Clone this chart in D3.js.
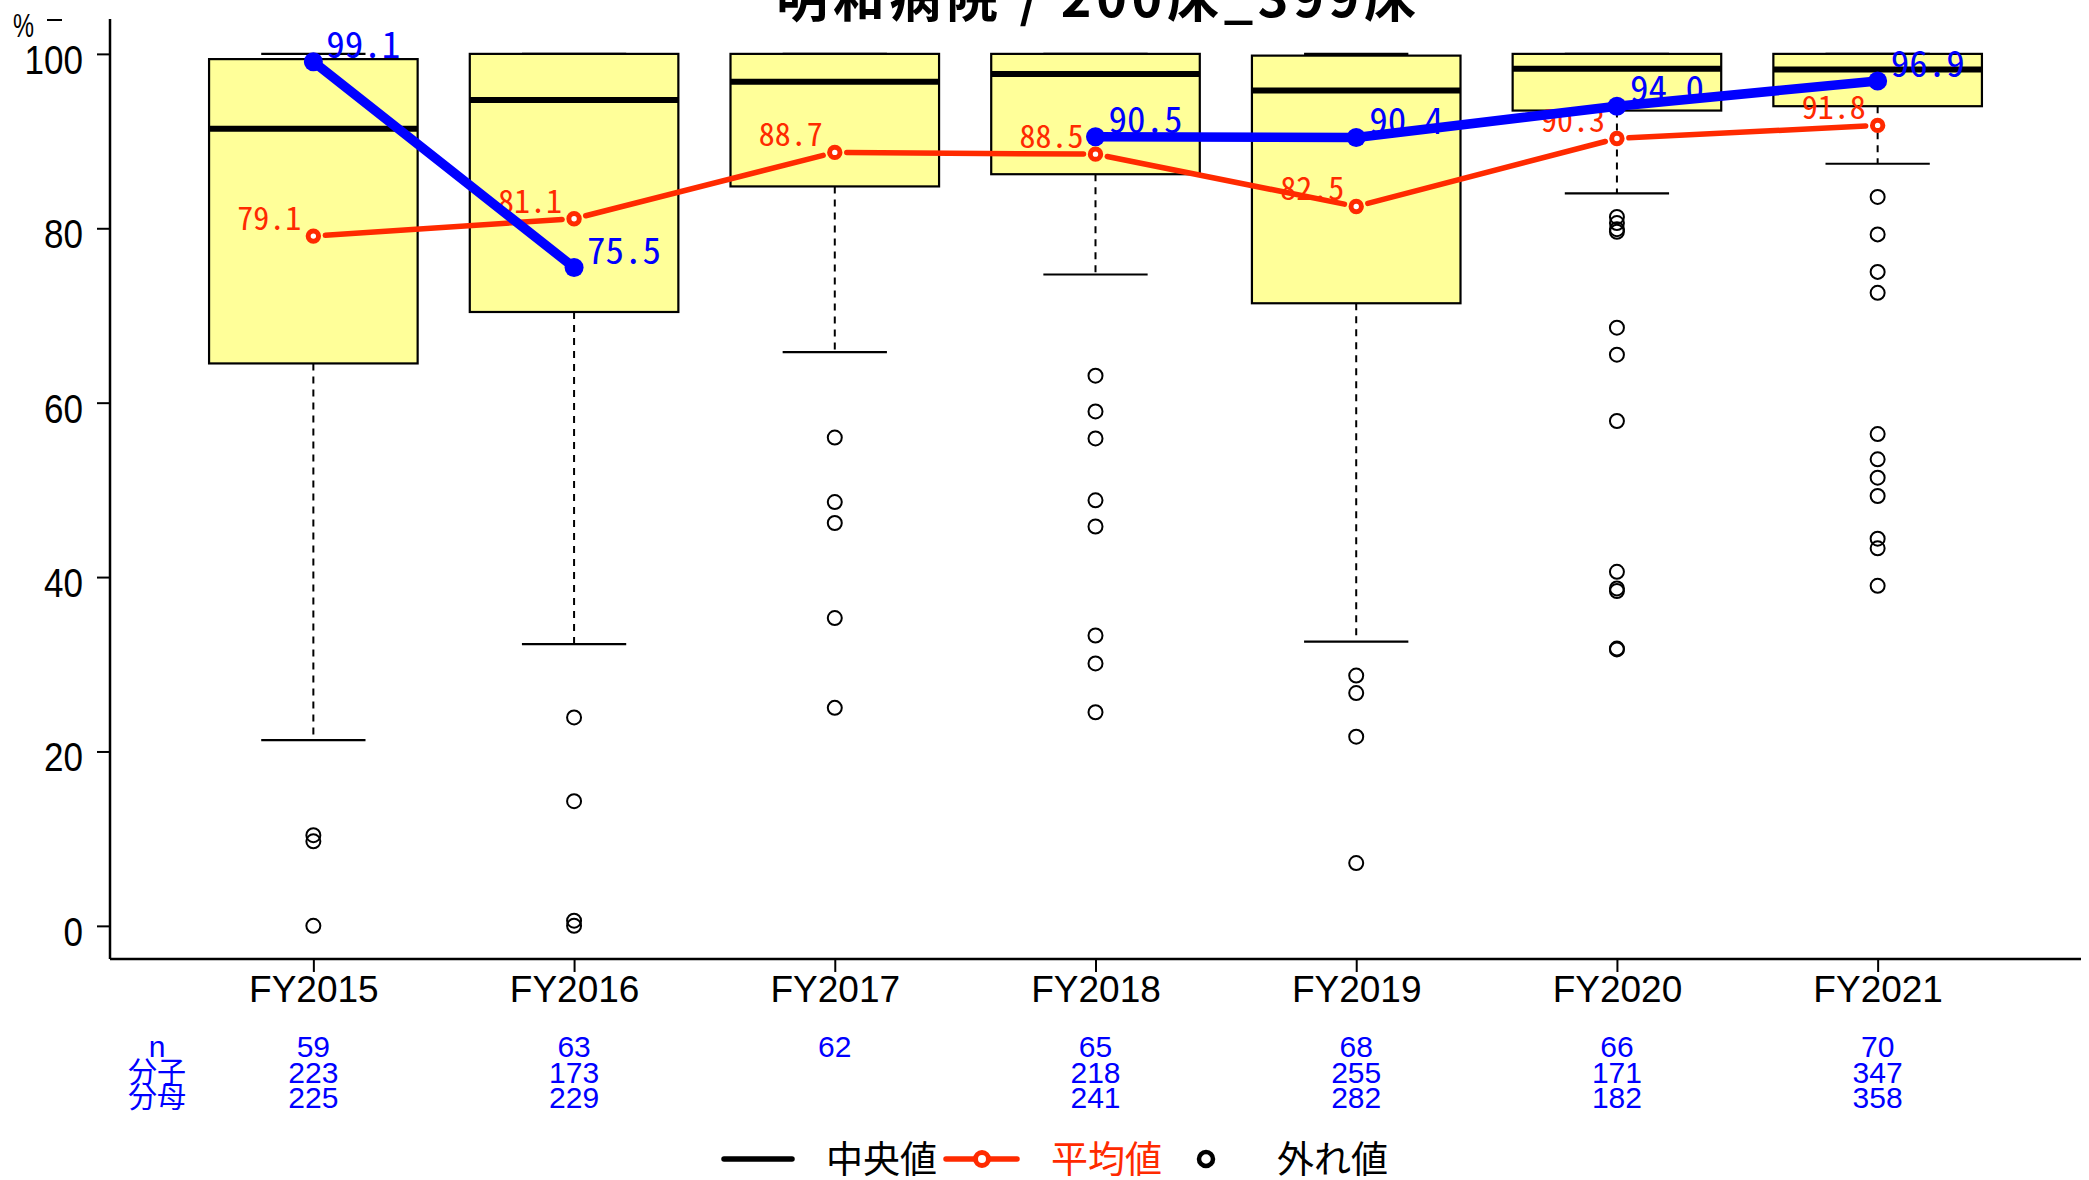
<!DOCTYPE html>
<html>
<head>
<meta charset="utf-8">
<script src="https://cdn.jsdelivr.net/npm/d3@7"></script>
<style>
  html, body { margin: 0; padding: 0; background: #fff; }
  svg { display: block; }
</style>
</head>
<body>
<svg id="chart" width="2089" height="1180"></svg>
<script>
// ---------------- DATA ----------------
const titleText = "明和病院 / 200床_399床";
const categories = ["FY2015", "FY2016", "FY2017", "FY2018", "FY2019", "FY2020", "FY2021"];
const whiskerLow = [21.3, 32.3, 65.8, 74.7, 32.6, 84.0, 87.4];
const q1 = [64.5, 70.4, 84.8, 86.2, 71.4, 93.5, 94.0];
const median = [91.4, 94.7, 96.8, 97.7, 95.8, 98.3, 98.2];
const q3 = [99.4, 100, 100, 100, 99.8, 100, 100];
const whiskerHigh = [100, 100, 100, 100, 100, 100, 100];
const outliers = [
  [10.4, 9.7, 0.0],
  [23.9, 14.3, 0.6, 0.0],
  [56.0, 48.6, 46.2, 35.3, 25.0],
  [63.1, 59.0, 55.9, 48.8, 45.8, 33.3, 30.1, 24.5],
  [28.7, 26.7, 21.7, 7.2],
  [81.3, 80.6, 79.9, 79.6, 68.6, 65.5, 57.9, 40.6, 38.7, 38.4, 31.8, 31.7],
  [83.6, 79.3, 75.0, 72.6, 56.4, 53.5, 51.4, 49.3, 44.4, 43.3, 39.0]
];
const meanValues = [79.1, 81.1, 88.7, 88.5, 82.5, 90.3, 91.8];
const hospitalValues = [99.1, 75.5, null, 90.5, 90.4, 94.0, 96.9];
const nValues = [59, 63, 62, 65, 68, 66, 70];
const numerators = [223, 173, null, 218, 255, 171, 347];
const denominators = [225, 229, null, 241, 282, 182, 358];
const tableRowLabels = ["n", "分子", "分母"];
const yTicks = [0, 20, 40, 60, 80, 100];
const legendLabels = ["中央値", "平均値", "外れ値"];

// ---------------- SETUP ----------------
const svg = d3.select("#chart");
const BLUE = "#0000ff", RED = "#ff2a00", BOXFILL = "#ffff99";
const SANS = "'Liberation Sans', Arial, Helvetica, sans-serif";
const CJK = "'Noto Sans CJK JP', 'Noto Sans CJK SC', sans-serif";
const MONO = "'Noto Sans Mono CJK JP', 'DejaVu Sans Mono', monospace";

const plotLeft = 110, plotRight = 2081, plotTop = 19, plotBottom = 959;
const x = d3.scalePoint().domain(categories).range([plotLeft, plotRight]).padding(0.78);
const y = d3.scaleLinear().domain([-3.8, 104.0]).range([plotBottom, plotTop]);
const step = x.step();
const boxHalf = step * 0.4, capHalf = step * 0.2;

// ---------------- AXES ----------------
const yAxis = d3.axisLeft(y).tickValues(yTicks).tickSize(13).tickPadding(14).tickFormat(d3.format("d"));
const gy = svg.append("g").attr("transform", `translate(${plotLeft},0)`).call(yAxis);
gy.select(".domain").attr("d", `M0,${plotTop}V${plotBottom}`).attr("stroke", "#000").attr("stroke-width", 2.5);
gy.selectAll(".tick line").attr("stroke", "#000").attr("stroke-width", 2);
gy.selectAll(".tick text").attr("font-family", SANS).attr("font-size", 40).attr("fill", "#000")
  .attr("dy", null).attr("y", 19.5).attr("dominant-baseline", "auto")
  .attr("textLength", d => String(d).length * 19.5).attr("lengthAdjust", "spacingAndGlyphs");

const xAxis = d3.axisBottom(x).tickSize(13).tickPadding(0);
const gx = svg.append("g").attr("transform", `translate(0,${plotBottom})`).call(xAxis);
gx.select(".domain").attr("d", `M${plotLeft},0H${plotRight}`).attr("stroke", "#000").attr("stroke-width", 2.5);
gx.selectAll(".tick line").attr("stroke", "#000").attr("stroke-width", 2);
gx.selectAll(".tick text").attr("font-family", SANS).attr("font-size", 37).attr("fill", "#000")
  .attr("dy", null).attr("y", 43);

// "%" unit label
svg.append("text").attr("x", 13).attr("y", 37).attr("font-family", SANS).attr("font-size", 34)
  .attr("textLength", 21).attr("lengthAdjust", "spacingAndGlyphs").text("%");
svg.append("line").attr("x1", 47).attr("x2", 62).attr("y1", 20).attr("y2", 20)
  .attr("stroke", "#000").attr("stroke-width", 2);

// Title (partly cut off at top, as in the reference)
svg.append("text").attr("x", 1096).attr("y", 17).attr("text-anchor", "middle")
  .attr("font-family", CJK).attr("font-weight", "bold").attr("font-size", 52)
  .attr("textLength", 640).attr("lengthAdjust", "spacing").text(titleText);

// ---------------- BOXES ----------------
const gBox = svg.append("g");
categories.forEach((c, i) => {
  const cx = x(c);
  gBox.append("line").attr("x1", cx).attr("x2", cx).attr("y1", y(q1[i])).attr("y2", y(whiskerLow[i]))
    .attr("stroke", "#000").attr("stroke-width", 2).attr("stroke-dasharray", "7,6");
  gBox.append("line").attr("x1", cx).attr("x2", cx).attr("y1", y(q3[i])).attr("y2", y(whiskerHigh[i]))
    .attr("stroke", "#000").attr("stroke-width", 2).attr("stroke-dasharray", "7,6");
  [whiskerLow[i], whiskerHigh[i]].forEach(v => {
    gBox.append("line").attr("x1", cx - capHalf).attr("x2", cx + capHalf).attr("y1", y(v)).attr("y2", y(v))
      .attr("stroke", "#000").attr("stroke-width", 2.2);
  });
  gBox.append("rect").attr("x", cx - boxHalf).attr("width", boxHalf * 2)
    .attr("y", y(q3[i])).attr("height", y(q1[i]) - y(q3[i]))
    .attr("fill", BOXFILL).attr("stroke", "#000").attr("stroke-width", 2.2);
  gBox.append("line").attr("x1", cx - boxHalf).attr("x2", cx + boxHalf).attr("y1", y(median[i])).attr("y2", y(median[i]))
    .attr("stroke", "#000").attr("stroke-width", 6);
  gBox.selectAll(null).data(outliers[i]).enter().append("circle")
    .attr("cx", cx).attr("cy", d => y(d)).attr("r", 7)
    .attr("fill", "none").attr("stroke", "#000").attr("stroke-width", 2);
});

// ---------------- MEAN LINE (red, type "b") ----------------
const gMean = svg.append("g");
const gap = 12;
for (let i = 0; i < categories.length - 1; i++) {
  const x1 = x(categories[i]), y1 = y(meanValues[i]);
  const x2 = x(categories[i + 1]), y2 = y(meanValues[i + 1]);
  const L = Math.hypot(x2 - x1, y2 - y1), ux = (x2 - x1) / L, uy = (y2 - y1) / L;
  gMean.append("line").attr("x1", x1 + ux * gap).attr("y1", y1 + uy * gap)
    .attr("x2", x2 - ux * gap).attr("y2", y2 - uy * gap)
    .attr("stroke", RED).attr("stroke-width", 5.5).attr("stroke-linecap", "round");
}
gMean.selectAll("circle").data(meanValues).enter().append("circle")
  .attr("cx", (d, i) => x(categories[i])).attr("cy", d => y(d)).attr("r", 5.2)
  .attr("fill", "#fff").attr("stroke", RED).attr("stroke-width", 5);
gMean.selectAll("text").data(meanValues).enter().append("text")
  .attr("x", (d, i) => x(categories[i]) - 12).attr("y", d => y(d) - 6)
  .attr("text-anchor", "end").attr("font-family", MONO).attr("font-size", 32).attr("fill", RED)
  .attr("textLength", d => d.toFixed(1).length * 16).attr("lengthAdjust", "spacingAndGlyphs")
  .text(d => d.toFixed(1));

// ---------------- HOSPITAL LINE (blue) ----------------
const hospData = hospitalValues.map((v, i) => ({ c: categories[i], v }));
const line = d3.line().defined(d => d.v != null).x(d => x(d.c)).y(d => y(d.v));
svg.append("path").attr("d", line(hospData)).attr("fill", "none").attr("stroke", BLUE)
  .attr("stroke-width", 9.5).attr("stroke-linejoin", "round");
const hospPts = hospData.filter(d => d.v != null);
svg.selectAll(".hp").data(hospPts).enter().append("circle").attr("class", "hp")
  .attr("cx", d => x(d.c)).attr("cy", d => y(d.v)).attr("r", 9.5).attr("fill", BLUE);
svg.selectAll(".hl").data(hospPts).enter().append("text").attr("class", "hl")
  .attr("x", d => x(d.c) + 13).attr("y", d => y(d.v) - 4)
  .attr("font-family", MONO).attr("font-size", 37).attr("fill", BLUE)
  .attr("textLength", d => d.v.toFixed(1).length * 18.5).attr("lengthAdjust", "spacingAndGlyphs")
  .text(d => d.v.toFixed(1));

// ---------------- TABLE ----------------
const rowBase = [1057, 1083, 1108];
const rows = [nValues, numerators, denominators];
tableRowLabels.forEach((lab, r) => {
  svg.append("text").attr("x", 157).attr("y", rowBase[r]).attr("text-anchor", "middle")
    .attr("font-family", r === 0 ? SANS : CJK).attr("font-size", r === 0 ? 30 : 29).attr("fill", BLUE).text(lab);
  svg.selectAll(null).data(rows[r]).enter().append("text")
    .attr("x", (d, i) => x(categories[i])).attr("y", rowBase[r]).attr("text-anchor", "middle")
    .attr("font-family", SANS).attr("font-size", 30).attr("fill", BLUE)
    .text(d => d == null ? "" : d);
});

// ---------------- LEGEND ----------------
const lg = svg.append("g");
const ly = 1159;
lg.append("line").attr("x1", 724).attr("x2", 792).attr("y1", ly).attr("y2", ly)
  .attr("stroke", "#000").attr("stroke-width", 5.5).attr("stroke-linecap", "round");
lg.append("text").attr("x", 826).attr("y", ly + 14).attr("font-family", CJK).attr("font-size", 37)
  .attr("fill", "#000").text(legendLabels[0]);
lg.append("line").attr("x1", 946).attr("x2", 1017).attr("y1", ly).attr("y2", ly)
  .attr("stroke", RED).attr("stroke-width", 5.5).attr("stroke-linecap", "round");
lg.append("circle").attr("cx", 982).attr("cy", ly).attr("r", 6.5)
  .attr("fill", "#fff").attr("stroke", RED).attr("stroke-width", 5);
lg.append("text").attr("x", 1051).attr("y", ly + 14).attr("font-family", CJK).attr("font-size", 37)
  .attr("fill", RED).text(legendLabels[1]);
lg.append("circle").attr("cx", 1206).attr("cy", ly).attr("r", 7)
  .attr("fill", "none").attr("stroke", "#000").attr("stroke-width", 4.5);
lg.append("text").attr("x", 1277).attr("y", ly + 14).attr("font-family", CJK).attr("font-size", 37)
  .attr("fill", "#000").text(legendLabels[2]);
</script>
</body>
</html>
